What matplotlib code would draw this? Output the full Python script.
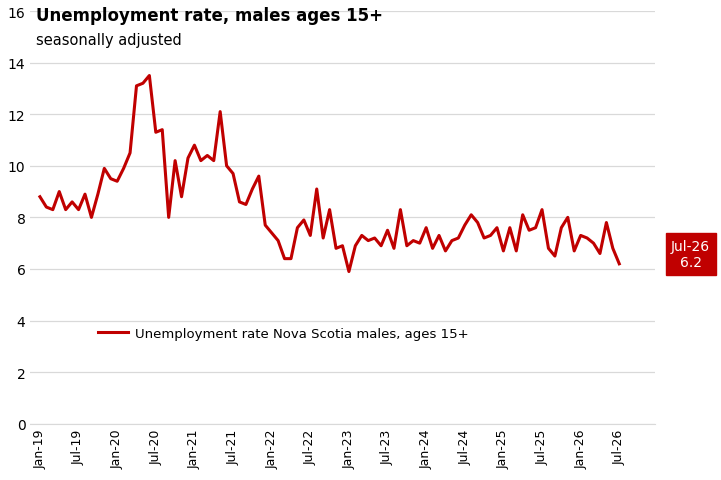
import matplotlib
matplotlib.use("Agg")
import matplotlib.pyplot as plt
import pandas as pd

# monthly values, Jan-19 .. Jul-26
rate = [8.8, 8.4, 8.3, 9.0, 8.3, 8.6, 8.3, 8.9, 8.0, 8.9, 9.9, 9.5,
        9.4, 9.9, 10.5, 13.1, 13.2, 13.5, 11.3, 11.4, 8.0, 10.2, 8.8, 10.3,
        10.8, 10.2, 10.4, 10.2, 12.1, 10.0, 9.7, 8.6, 8.5, 9.1, 9.6, 7.7,
        7.4, 7.1, 6.4, 6.4, 7.6, 7.9, 7.3, 9.1, 7.2, 8.3, 6.8, 6.9,
        5.9, 6.9, 7.3, 7.1, 7.2, 6.9, 7.5, 6.8, 8.3, 6.9, 7.1, 7.0,
        7.6, 6.8, 7.3, 6.7, 7.1, 7.2, 7.7, 8.1, 7.8, 7.2, 7.3, 7.6,
        6.7, 7.6, 6.7, 8.1, 7.5, 7.6, 8.3, 6.8, 6.5, 7.6, 8.0, 6.7,
        7.3, 7.2, 7.0, 6.6, 7.8, 6.8, 6.2]
months = pd.date_range("2019-01-01", periods=len(rate), freq="MS")
labels = [m.strftime("%b-%y") for m in months]
red = "#C00000"

fig = plt.figure(figsize=(7.21, 4.81), dpi=100)
ax = fig.add_axes([0.042, 0.117, 0.866, 0.858])
x = list(range(len(rate)))
ax.plot(x, rate, color=red, lw=2.2, label="Unemployment rate Nova Scotia males, ages 15+")
ax.set_ylim(0, 16)
ax.set_yticks(range(0, 17, 2))
ax.set_xlim(-1.5, len(rate) + 4.5)
ax.set_xticks(x[::6])
ax.set_xticklabels(labels[::6], rotation=90, fontsize=9)
ax.tick_params(axis="y", labelsize=10, length=0)
ax.tick_params(axis="x", length=0)
ax.grid(axis="y", color="#d9d9d9", lw=0.9)
ax.set_axisbelow(True)
for s in ["top", "right", "left"]:
    ax.spines[s].set_visible(False)
ax.spines["bottom"].set_color("#d9d9d9")
ax.legend(loc="lower left", bbox_to_anchor=(0.1, 0.19), frameon=False, fontsize=9.5,
          handlelength=2.3, handletextpad=0.5, borderaxespad=0)

fig.text(0.05, 0.957, "Unemployment rate, males ages 15+", fontsize=12, fontweight="bold")
fig.text(0.05, 0.907, "seasonally adjusted", fontsize=10.5)
fig.text(0.958, 0.47, f"{labels[-1]}\n{rate[-1]}", ha="center", va="center", color="white",
         fontsize=10, linespacing=1.25,
         bbox=dict(boxstyle="square,pad=0.4", fc=red, ec=red))
fig.savefig("out.png", dpi=100)
